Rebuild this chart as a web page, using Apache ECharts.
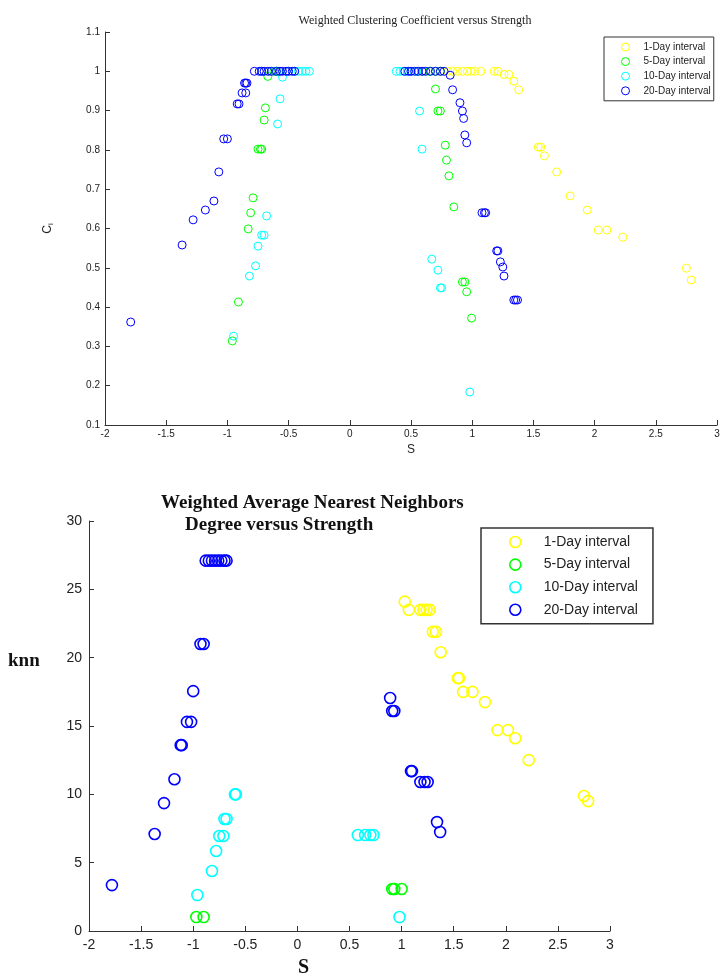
<!DOCTYPE html>
<html><head><meta charset="utf-8">
<script src="https://cdn.jsdelivr.net/npm/echarts@6/dist/echarts.min.js"></script>
<style>html,body{margin:0;padding:0;background:#fff}#c{width:727px;height:978px}</style>
</head><body><div id="c"></div><script>
// ---------- Top chart: Weighted Clustering Coefficient versus Strength ----------
var seriesNames = ['1-Day interval', '5-Day interval', '10-Day interval', '20-Day interval'];
var seriesColors = ['#ffff00', '#00ff00', '#00ffff', '#0000ff'];

var cc1DayS = [0.80,0.84,0.88,0.92,0.96,0.99,1.02,1.07,1.18,1.21,1.26,1.30,1.34,1.38,1.54,1.56,1.59,1.69,1.80,1.94,2.03,2.10,2.23,2.75,2.79];
var cc1DayC = [1,1,1,1,1,1,1,1,1,1,0.992,0.992,0.975,0.953,0.807,0.807,0.785,0.744,0.683,0.647,0.596,0.596,0.578,0.499,0.469];

var cc5DayS = [-0.66,-0.62,-0.60,-0.58,0.55,0.60,0.65,0.70,0.74,-0.67,-0.69,-0.70,-0.75,-0.73,-0.72,-0.79,-0.81,-0.83,-0.91,-0.96,0.70,0.72,0.74,0.78,0.79,0.81,0.85,0.92,0.94,0.955,0.995];
var cc5DayC = [1,1,1,1,1,1,1,1,1,0.987,0.907,0.876,0.802,0.802,0.802,0.678,0.64,0.599,0.413,0.314,0.955,0.899,0.899,0.812,0.774,0.734,0.655,0.464,0.464,0.439,0.372];

var cc10DayS = [-0.72,-0.60,-0.50,-0.45,-0.42,-0.39,-0.36,-0.33,0.38,0.41,0.44,0.47,0.50,0.55,-0.55,-0.57,-0.59,-0.68,-0.72,-0.70,-0.75,-0.77,-0.82,-0.95,0.57,0.59,0.67,0.72,0.74,0.75,0.98];
var cc10DayC = [1,1,1,1,1,1,1,1,1,1,1,1,1,1,0.985,0.93,0.866,0.632,0.583,0.583,0.555,0.505,0.479,0.326,0.899,0.802,0.522,0.494,0.449,0.449,0.184];

var cc20DayS = [-0.78,-0.74,-0.72,-0.70,-0.67,-0.64,-0.60,-0.57,-0.55,-0.52,-0.50,-0.47,-0.45,0.45,0.48,0.50,0.53,0.56,0.59,0.62,0.66,0.70,0.74,0.77,0.82,-0.86,-0.85,-0.84,-0.88,-0.85,-0.92,-0.905,-1.03,-1.0,-1.07,-1.11,-1.18,-1.28,-1.37,-1.79,0.84,0.90,0.92,0.93,0.94,0.955,1.08,1.10,1.11,1.20,1.21,1.23,1.25,1.26,1.34,1.355,1.37];
var cc20DayC = [1,1,1,1,1,1,1,1,1,1,1,1,1,1,1,1,1,1,1,1,1,1,1,1,0.99,0.97,0.97,0.97,0.945,0.945,0.917,0.917,0.828,0.828,0.744,0.67,0.647,0.622,0.558,0.362,0.953,0.92,0.899,0.88,0.838,0.818,0.64,0.64,0.64,0.543,0.543,0.515,0.502,0.479,0.418,0.418,0.418];

// ---------- Bottom chart: knn versus Strength ----------
var knn1DayS = [1.03,1.07,1.18,1.21,1.24,1.27,1.30,1.33,1.375,1.54,1.55,1.59,1.68,1.80,1.92,2.02,2.09,2.22,2.75,2.79];
var knn1DayK = [24.1,23.5,23.5,23.5,23.5,23.5,21.9,21.9,20.4,18.5,18.5,17.5,17.5,16.75,14.7,14.7,14.1,12.5,9.88,9.5];

var knn5DayS = [-0.97,-0.90,0.91,0.93,1.0];
var knn5DayK = [1.02,1.02,3.07,3.07,3.07];

var knn10DayS = [-0.60,-0.59,-0.70,-0.68,-0.75,-0.71,-0.78,-0.82,-0.96,0.58,0.65,0.70,0.73,0.98];
var knn10DayK = [10.0,10.0,8.2,8.2,6.95,6.95,5.85,4.39,2.63,7.02,7.02,7.02,7.02,1.02];

var knn20DayS = [-0.88,-0.85,-0.82,-0.79,-0.76,-0.73,-0.70,-0.68,-0.93,-0.90,-1.0,-1.06,-1.02,-1.12,-1.11,-1.18,-1.28,-1.37,-1.78,0.89,0.91,0.93,1.09,1.10,1.18,1.22,1.25,1.34,1.37];
var knn20DayK = [27.1,27.1,27.1,27.1,27.1,27.1,27.1,27.1,21.0,21.0,17.55,15.3,15.3,13.6,13.6,11.1,9.36,7.1,3.36,17.05,16.1,16.1,11.7,11.7,10.9,10.9,10.9,7.97,7.24];

function zip(a, b) { return a.map(function (v, i) { return [v, b[i]]; }); }

var topData = [zip(cc1DayS, cc1DayC), zip(cc5DayS, cc5DayC), zip(cc10DayS, cc10DayC), zip(cc20DayS, cc20DayC)];
var botData = [zip(knn1DayS, knn1DayK), zip(knn5DayS, knn5DayK), zip(knn10DayS, knn10DayK), zip(knn20DayS, knn20DayK)];

var SANS = 'Liberation Sans, Arial, sans-serif';
var SERIF = 'Liberation Serif, Times New Roman, serif';

function axisCommon(fs, margin) {
  return {
    axisLine: { show: true, onZero: false, lineStyle: { color: '#333', width: 1 } },
    axisTick: { show: true, inside: true, length: 5, lineStyle: { color: '#333' } },
    axisLabel: { color: '#222', fontSize: fs, fontFamily: SANS, margin: margin },
    splitLine: { show: false }
  };
}

var series = [];
for (var i = 0; i < 4; i++) {
  series.push({
    name: seriesNames[i], type: 'scatter', xAxisIndex: 0, yAxisIndex: 0,
    symbol: 'circle', symbolSize: 8, data: topData[i],
    itemStyle: { color: 'rgba(0,0,0,0)', borderColor: seriesColors[i], borderWidth: 1, opacity: 1 },
    emphasis: { disabled: true }
  });
}
for (var j = 0; j < 4; j++) {
  series.push({
    name: seriesNames[j], type: 'scatter', xAxisIndex: 1, yAxisIndex: 1,
    symbol: 'circle', symbolSize: 11, data: botData[j],
    itemStyle: { color: 'rgba(0,0,0,0)', borderColor: seriesColors[j], borderWidth: 1.6, opacity: 1 },
    emphasis: { disabled: true }
  });
}

function legendData(bw) {
  return seriesNames.map(function (n, k) {
    return { name: n, icon: 'circle', itemStyle: { color: 'rgba(0,0,0,0)', borderColor: seriesColors[k], borderWidth: bw } };
  });
}

var xTop = Object.assign(axisCommon(10, 4), {
  type: 'value', gridIndex: 0, min: -2, max: 3, interval: 0.5,
  name: 'S', nameLocation: 'middle', nameGap: 19,
  nameTextStyle: { color: '#222', fontSize: 12, fontFamily: SANS }
});
var yTop = Object.assign(axisCommon(10, 5), {
  type: 'value', gridIndex: 0, min: 0.1, max: 1.1, interval: 0.1,
  name: 'C{sub|i}', nameLocation: 'middle', nameGap: 50, nameRotate: 90,
  nameTextStyle: { color: '#222', fontSize: 12, fontFamily: SANS, rich: { sub: { fontSize: 8, fontFamily: SANS, color: '#222', padding: [6, 0, 0, 0] } } }
});
var xBot = Object.assign(axisCommon(14, 7), {
  type: 'value', gridIndex: 1, min: -2, max: 3, interval: 0.5
});
var yBot = Object.assign(axisCommon(14, 7), {
  type: 'value', gridIndex: 1, min: 0, max: 30, interval: 5
});

var chart = echarts.init(document.getElementById('c'), null, { renderer: 'canvas' });
chart.setOption({
  animation: false,
  backgroundColor: '#fff',
  title: [
    { text: 'Weighted Clustering Coefficient versus Strength', left: 410, top: 10, textAlign: 'center',
      textStyle: { fontFamily: SERIF, fontSize: 12, fontWeight: 'normal', color: '#222' } },
    { text: 'Weighted Average Nearest Neighbors', left: 161, top: 494,
      textStyle: { fontFamily: SERIF, fontSize: 19, fontWeight: 'bold', color: '#111' }, padding: 0 },
    { text: 'Degree versus Strength', left: 185, top: 516,
      textStyle: { fontFamily: SERIF, fontSize: 19, fontWeight: 'bold', color: '#111' }, padding: 0 }
  ],
  grid: [
    { left: 105, right: 10, top: 32, bottom: 553 },
    { left: 89, right: 117, top: 521, bottom: 47 }
  ],
  xAxis: [xTop, xBot],
  yAxis: [yTop, yBot],
  legend: [
    { data: legendData(1), seriesIndex: [0,1,2,3], orient: 'vertical', left: 604, top: 37,
      padding: [5, 3, 5, 17], itemGap: 4.6, itemWidth: 8, itemHeight: 8,
      borderColor: '#333', borderWidth: 1, backgroundColor: '#fff', selectedMode: false,
      textStyle: { fontSize: 10, fontFamily: SANS, color: '#222', padding: [0, 0, 0, 9] } },
    { data: legendData(1.6), orient: 'vertical', left: 481, top: 528,
      padding: [7, 15, 7, 28], itemGap: 8.6, itemWidth: 11, itemHeight: 11,
      borderColor: '#333', borderWidth: 1.5, backgroundColor: '#fff', selectedMode: false,
      textStyle: { fontSize: 14, fontFamily: SANS, color: '#222', padding: [0, 0, 0, 18] } }
  ],
  graphic: [
    { type: 'text', left: 8, top: 652, style: { text: 'knn', fontFamily: SERIF, fontSize: 19, fontWeight: 'bold', fill: '#111' } },
    { type: 'text', left: 298, top: 958, style: { text: 'S', fontFamily: SERIF, fontSize: 20, fontWeight: 'bold', fill: '#111' } }
  ],
  series: series
});
</script></body></html>
